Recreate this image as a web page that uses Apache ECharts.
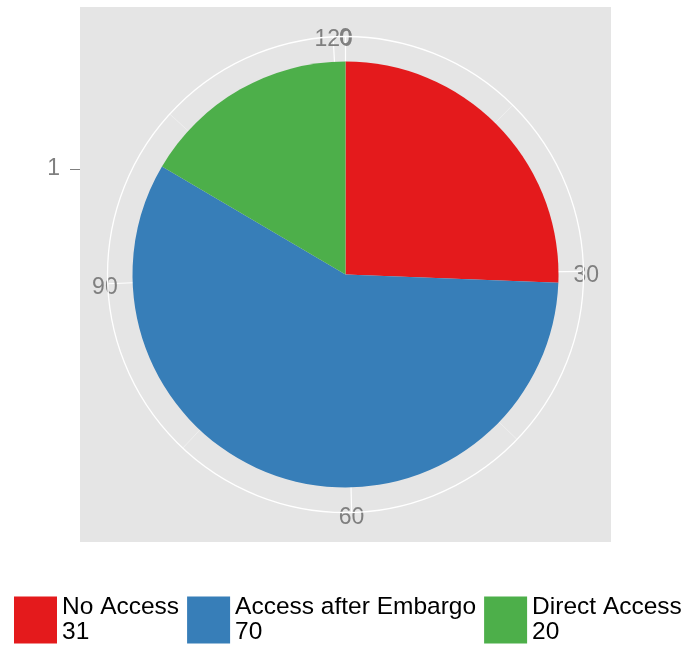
<!DOCTYPE html>
<html>
<head>
<meta charset="utf-8">
<script src="https://cdn.jsdelivr.net/npm/echarts@6/dist/echarts.min.js"></script>
<style>html,body{margin:0;padding:0;background:#fff}#c{width:690px;height:645px}</style>
</head>
<body>
<div id="c"></div>
<script>
const categories = ['No Access', 'Access after Embargo', 'Direct Access'];
const values = [31, 70, 20];
const colors = ['#E41A1C', '#377EB8', '#4DAF4A'];
const angleTicks = [0, 30, 60, 90, 120];
const radiusLabels = ['1'];

const total = values.reduce((a, b) => a + b, 0);
const FONT = "'Liberation Sans', Arial, sans-serif";
const center = [345.5, 274.5];
const labelCenter = [345.5, 278.5];

const hiddenAxis = {axisLine: {show: false}, axisTick: {show: false}, axisLabel: {show: false}, splitLine: {show: false}};

const chart = echarts.init(document.getElementById('c'), null, {renderer: 'canvas'});
chart.setOption({
  animation: false,
  backgroundColor: '#fff',
  grid: [
    {left: 80, top: 7, width: 531, height: 535, show: true, backgroundColor: '#E5E5E5', borderWidth: 0, z: -5},
    {left: 80, top: 62, width: 531, height: 213.5, show: false}
  ],
  xAxis: [
    {gridIndex: 0, type: 'value', show: false},
    {gridIndex: 1, type: 'value', show: false}
  ],
  yAxis: [
    {gridIndex: 0, type: 'value', show: false},
    {gridIndex: 1, type: 'category', data: radiusLabels,
     axisLine: {show: false},
     axisTick: {show: true, alignWithLabel: true, length: 10, lineStyle: {color: '#7F7F7F', width: 1}},
     axisLabel: {margin: 20, color: '#7F7F7F', fontSize: 23, fontFamily: FONT},
     splitLine: {show: false}}
  ],
  polar: [
    {center: center, radius: 238},
    {center: center, radius: 213},
    {center: labelCenter, radius: 238}
  ],
  angleAxis: [
    {polarIndex: 0, type: 'value', min: 0, max: total, interval: 30, startAngle: 90, clockwise: true,
     axisLine: {show: true, lineStyle: {color: '#FFFFFF', width: 1.3}},
     axisTick: {show: false},
     axisLabel: {show: false},
     splitLine: {show: true, lineStyle: {color: '#FFFFFF', width: 1.2}},
     minorTick: {show: false, splitNumber: 2},
     minorSplitLine: {show: true, lineStyle: {color: '#F2F2F2', width: 0.7}}},
    Object.assign({polarIndex: 1, type: 'value', min: 0, max: total, startAngle: 90, clockwise: true}, hiddenAxis),
    {polarIndex: 2, type: 'value', min: 0, max: total, interval: 30, startAngle: 90, clockwise: true,
     axisLine: {show: false}, axisTick: {show: false}, splitLine: {show: false},
     axisLabel: {show: true, margin: -10, color: '#7F7F7F', fontSize: 23, fontFamily: FONT,
       formatter: v => angleTicks.indexOf(v) >= 0 ? String(v) : ''}}
  ],
  radiusAxis: [
    Object.assign({polarIndex: 0, type: 'value', min: 0, max: 1}, hiddenAxis),
    Object.assign({polarIndex: 1, type: 'category', data: radiusLabels}, hiddenAxis),
    Object.assign({polarIndex: 2, type: 'value', min: 0, max: 1}, hiddenAxis)
  ],
  legend: {
    left: 14, top: 595, width: 676, padding: 0,
    data: categories,
    icon: 'rect',
    itemWidth: 43, itemHeight: 47, itemGap: 8,
    textStyle: {fontSize: 24.5, lineHeight: 25, color: '#000', fontFamily: FONT},
    formatter: name => name + '\n' + values[categories.indexOf(name)]
  },
  series: categories.map((name, i) => ({
    name: name,
    type: 'bar',
    coordinateSystem: 'polar',
    polarIndex: 1,
    stack: 'pie',
    barWidth: '100%',
    itemStyle: {color: colors[i]},
    data: [values[i]]
  }))
});
</script>
</body>
</html>
